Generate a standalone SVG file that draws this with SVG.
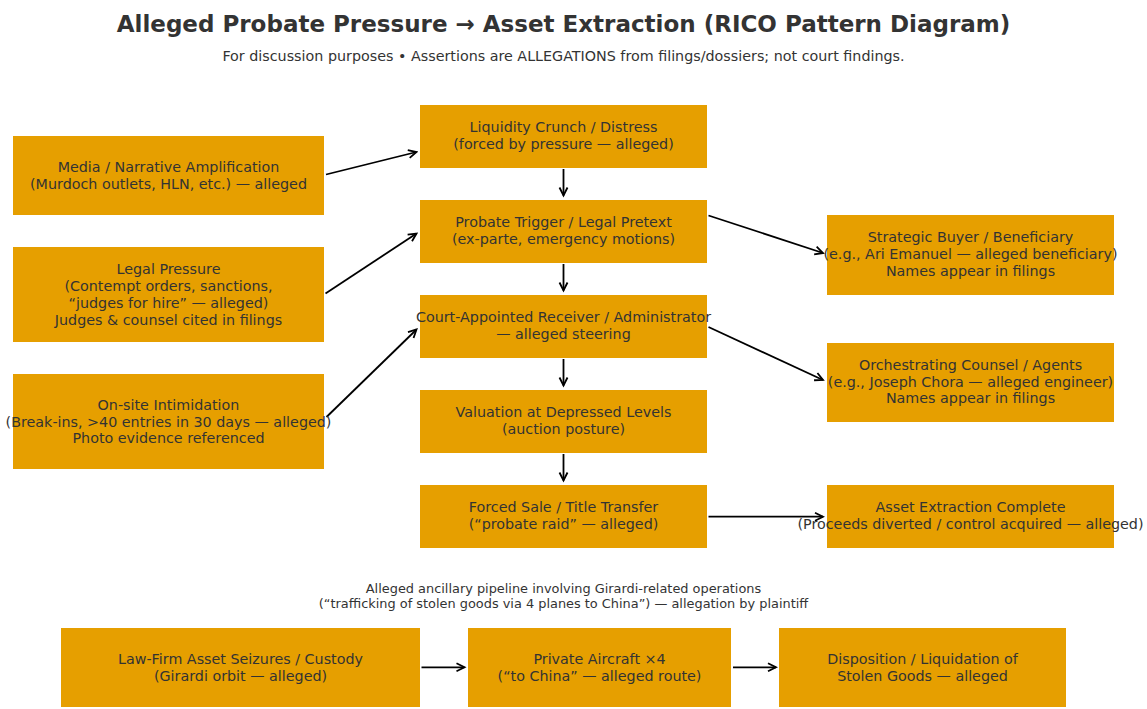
<svg xmlns="http://www.w3.org/2000/svg" width="1147" height="709" viewBox="0 0 1147 709">
<defs>
<style>
.box{fill:#E69F00;}
.t{font-family:"DejaVu Sans",sans-serif;font-size:14.3px;fill:#333333;text-anchor:middle;}
.cap{font-family:"DejaVu Sans",sans-serif;font-size:12.9px;fill:#333333;text-anchor:middle;}
.title{font-family:"DejaVu Sans",sans-serif;font-size:23px;font-weight:bold;fill:#333333;text-anchor:middle;}
.sub{font-family:"DejaVu Sans",sans-serif;font-size:14.3px;fill:#333333;text-anchor:middle;}
.c{stroke:#000;stroke-width:1.8;fill:none;marker-end:url(#ah);}
</style>
<marker id="ah" markerUnits="userSpaceOnUse" markerWidth="12" markerHeight="12" viewBox="-10 -6 12 12" refX="0" refY="0" orient="auto">
<path d="M-8,-4 L0,0 L-8,4" fill="none" stroke="#000" stroke-width="1.8"/>
</marker>
</defs>
<rect width="1147" height="709" fill="#ffffff"/>
<text class="title" x="563.5" y="31.7">Alleged Probate Pressure → Asset Extraction (RICO Pattern Diagram)</text>
<text class="sub" x="563.5" y="61">For discussion purposes • Assertions are ALLEGATIONS from filings/dossiers; not court findings.</text>

<g id="connectors">
<line class="c" x1="326" y1="174.5" x2="416.5" y2="152"/>
<line class="c" x1="325.5" y1="293.5" x2="416.5" y2="233.5"/>
<line class="c" x1="326.5" y1="417" x2="416.5" y2="329.5"/>
<line class="c" x1="563.5" y1="169" x2="563.5" y2="195.5"/>
<line class="c" x1="563.5" y1="264" x2="563.5" y2="290.5"/>
<line class="c" x1="563.5" y1="359" x2="563.5" y2="385.5"/>
<line class="c" x1="563.5" y1="454" x2="563.5" y2="480.5"/>
<line class="c" x1="708.5" y1="215.5" x2="823" y2="253"/>
<line class="c" x1="708.5" y1="327" x2="823" y2="380"/>
<line class="c" x1="708.5" y1="516.7" x2="823" y2="516.7"/>
<line class="c" x1="421.5" y1="667.3" x2="464.5" y2="667.3"/>
<line class="c" x1="733" y1="667.3" x2="776" y2="667.3"/>
</g>

<g id="media">
<rect class="box" x="13" y="136" width="311" height="79"/>
<text class="t" x="168.5" y="172.1">Media / Narrative Amplification</text>
<text class="t" x="168.5" y="188.9">(Murdoch outlets, HLN, etc.) — alleged</text>
</g>
<g id="legal">
<rect class="box" x="13" y="247" width="311" height="95"/>
<text class="t" x="168.5" y="274.3">Legal Pressure</text>
<text class="t" x="168.5" y="291.1">(Contempt orders, sanctions,</text>
<text class="t" x="168.5" y="307.9">“judges for hire” — alleged)</text>
<text class="t" x="168.5" y="324.7">Judges &amp; counsel cited in filings</text>
</g>
<g id="intimidation">
<rect class="box" x="13" y="374" width="311" height="95"/>
<text class="t" x="168.5" y="409.7">On-site Intimidation</text>
<text class="t" x="168.5" y="426.5">(Break-ins, &gt;40 entries in 30 days — alleged)</text>
<text class="t" x="168.5" y="443.3">Photo evidence referenced</text>
</g>

<g id="liquidity">
<rect class="box" x="420" y="105" width="287" height="63"/>
<text class="t" x="563.5" y="132.1">Liquidity Crunch / Distress</text>
<text class="t" x="563.5" y="148.9">(forced by pressure — alleged)</text>
</g>
<g id="probate">
<rect class="box" x="420" y="200" width="287" height="63"/>
<text class="t" x="563.5" y="227.1">Probate Trigger / Legal Pretext</text>
<text class="t" x="563.5" y="243.9">(ex-parte, emergency motions)</text>
</g>
<g id="receiver">
<rect class="box" x="420" y="295" width="287" height="63"/>
<text class="t" x="563.5" y="322.1">Court-Appointed Receiver / Administrator</text>
<text class="t" x="563.5" y="338.9">— alleged steering</text>
</g>
<g id="valuation">
<rect class="box" x="420" y="390" width="287" height="63"/>
<text class="t" x="563.5" y="417.1">Valuation at Depressed Levels</text>
<text class="t" x="563.5" y="433.9">(auction posture)</text>
</g>
<g id="forced-sale">
<rect class="box" x="420" y="485" width="287" height="63"/>
<text class="t" x="563.5" y="512.1">Forced Sale / Title Transfer</text>
<text class="t" x="563.5" y="528.9">(“probate raid” — alleged)</text>
</g>

<g id="buyer">
<rect class="box" x="827" y="215" width="287" height="80"/>
<text class="t" x="970.5" y="242.2">Strategic Buyer / Beneficiary</text>
<text class="t" x="970.5" y="259">(e.g., Ari Emanuel — alleged beneficiary)</text>
<text class="t" x="970.5" y="275.8">Names appear in filings</text>
</g>
<g id="counsel">
<rect class="box" x="827" y="343" width="287" height="79"/>
<text class="t" x="970.5" y="369.7">Orchestrating Counsel / Agents</text>
<text class="t" x="970.5" y="386.5">(e.g., Joseph Chora — alleged engineer)</text>
<text class="t" x="970.5" y="403.3">Names appear in filings</text>
</g>
<g id="extraction">
<rect class="box" x="827" y="485" width="287" height="63"/>
<text class="t" x="970.5" y="512.1">Asset Extraction Complete</text>
<text class="t" x="970.5" y="528.9">(Proceeds diverted / control acquired — alleged)</text>
</g>

<g id="caption">
<text class="cap" x="563.5" y="592.5">Alleged ancillary pipeline involving Girardi-related operations</text>
<text class="cap" x="563.5" y="607.5">(“trafficking of stolen goods via 4 planes to China”) — allegation by plaintiff</text>
</g>

<g id="seizures">
<rect class="box" x="61" y="628" width="359" height="79"/>
<text class="t" x="240.5" y="664.1">Law-Firm Asset Seizures / Custody</text>
<text class="t" x="240.5" y="680.9">(Girardi orbit — alleged)</text>
</g>
<g id="aircraft">
<rect class="box" x="468" y="628" width="263" height="79"/>
<text class="t" x="599.5" y="664.1">Private Aircraft ×4</text>
<text class="t" x="599.5" y="680.9">(“to China” — alleged route)</text>
</g>
<g id="disposition">
<rect class="box" x="779" y="628" width="287" height="79"/>
<text class="t" x="922.5" y="664.1">Disposition / Liquidation of</text>
<text class="t" x="922.5" y="680.9">Stolen Goods — alleged</text>
</g>
</svg>
